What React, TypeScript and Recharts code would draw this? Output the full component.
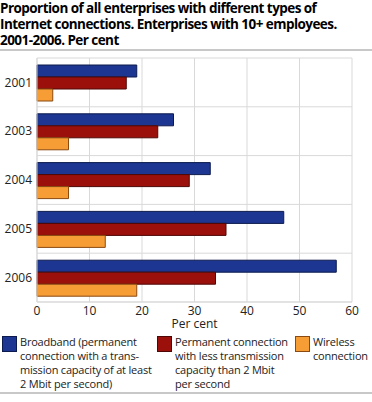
import React from 'react';
import { BarChart, Bar, XAxis, YAxis, CartesianGrid, Legend } from 'recharts';

const years = ['2001', '2003', '2004', '2005', '2006'];
const broadband = [19, 26, 33, 47, 57];
const permanent = [17, 23, 29, 36, 34];
const wireless = [3, 6, 6, 13, 19];
const xTicks = [0, 10, 20, 30, 40, 50, 60];

const titleLines = [
  'Proportion of all enterprises with different types of',
  'Internet connections. Enterprises with 10+ employees.',
  '2001-2006. Per cent',
];

const legendLabels: Record<string, string[]> = {
  broadband: ['Broadband (permanent', 'connection with a trans-', 'mission capacity of at least', '2 Mbit per second)'],
  permanent: ['Permanent connection', 'with less transmission', 'capacity than 2 Mbit', 'per second'],
  wireless: ['Wireless', 'connection'],
};

const chartData = years.map((year, i) => ({
  year,
  broadband: broadband[i],
  permanent: permanent[i],
  wireless: wireless[i],
}));

const FONT = '"Open Sans", sans-serif';

const legendLeft = [2, 157, 295];

const renderLegend = (props: any) => {
  const { payload } = props;
  return (
    <div style={{ position: 'relative', width: 372, height: 60, fontFamily: FONT, fontSize: 11, letterSpacing: -0.2, color: '#222' }}>
      {(payload || []).map((entry: any, i: number) => (
        <div key={entry.dataKey} style={{ position: 'absolute', left: legendLeft[i], top: 0 }}>
          <div
            style={{
              position: 'absolute',
              left: 0,
              top: 1,
              width: 15,
              height: 16,
              background: entry.color,
              border: `1px solid ${entry.payload.stroke}`,
              boxSizing: 'border-box',
            }}
          />
          <div style={{ position: 'absolute', left: 18, top: 0, lineHeight: '14px', whiteSpace: 'nowrap' }}>
            {legendLabels[entry.dataKey].map((line) => (
              <div key={line}>{line}</div>
            ))}
          </div>
        </div>
      ))}
    </div>
  );
};

// separators between categories instead of lines through their centres
const bandLines = ({ offset }: any) =>
  years.map((_, i) => offset.top + (i * offset.height) / years.length).concat(offset.top + offset.height);

export default function App() {
  return (
    <div style={{ position: 'absolute', left: 0, top: 0, width: 372, height: 402, background: '#fff', fontFamily: FONT }}>
      <div
        style={{
          position: 'absolute',
          left: 0,
          top: 0,
          fontWeight: 700,
          fontSize: 13.5,
          letterSpacing: -0.55,
          lineHeight: '16px',
          color: '#000',
          whiteSpace: 'nowrap',
        }}
      >
        {titleLines.map((line) => (
          <div key={line}>{line}</div>
        ))}
      </div>
      <div style={{ position: 'absolute', left: 0, top: 49, width: 372, height: 2, background: '#c8c8c8' }} />
      <div style={{ position: 'absolute', left: 0, top: 392, width: 372, height: 2, background: '#c8c8c8' }} />
      <div style={{ position: 'absolute', left: 0, top: 0 }}>
        <BarChart
          width={372}
          height={402}
          data={chartData}
          layout="vertical"
          margin={{ top: 58, right: 20, bottom: 70, left: 0 }}
          barCategoryGap={7}
          barGap={0}
        >
          <CartesianGrid stroke="#d9d9d9" horizontalCoordinatesGenerator={bandLines} />
          <XAxis
            type="number"
            domain={[0, 60]}
            ticks={xTicks}
            height={30}
            tickLine={false}
            axisLine={{ stroke: '#d9d9d9' }}
            tickSize={4}
            tickMargin={0}
            tick={{ fill: '#222', fontSize: 12, fontFamily: FONT }}
            label={{ value: 'Per cent', position: 'insideBottom', offset: 4, fill: '#222', fontSize: 12, fontFamily: FONT }}
          />
          <YAxis
            type="category"
            dataKey="year"
            width={37}
            tickLine={false}
            axisLine={{ stroke: '#d9d9d9' }}
            tickSize={3}
            tickMargin={2}
            tick={{ fill: '#222', fontSize: 12, fontFamily: FONT }}
          />
          <Legend
            layout="horizontal"
            verticalAlign="middle"
            align="center"
            content={renderLegend}
            wrapperStyle={{ top: 335, left: 0, width: 372 }}
          />
          <Bar dataKey="broadband" fill="#1c3691" stroke="#0d1a4d" strokeWidth={1} isAnimationActive={false} />
          <Bar dataKey="permanent" fill="#9c100c" stroke="#4d0806" strokeWidth={1} isAnimationActive={false} />
          <Bar dataKey="wireless" fill="#f79d36" stroke="#8a4a10" strokeWidth={1} isAnimationActive={false} />
        </BarChart>
      </div>
    </div>
  );
}
